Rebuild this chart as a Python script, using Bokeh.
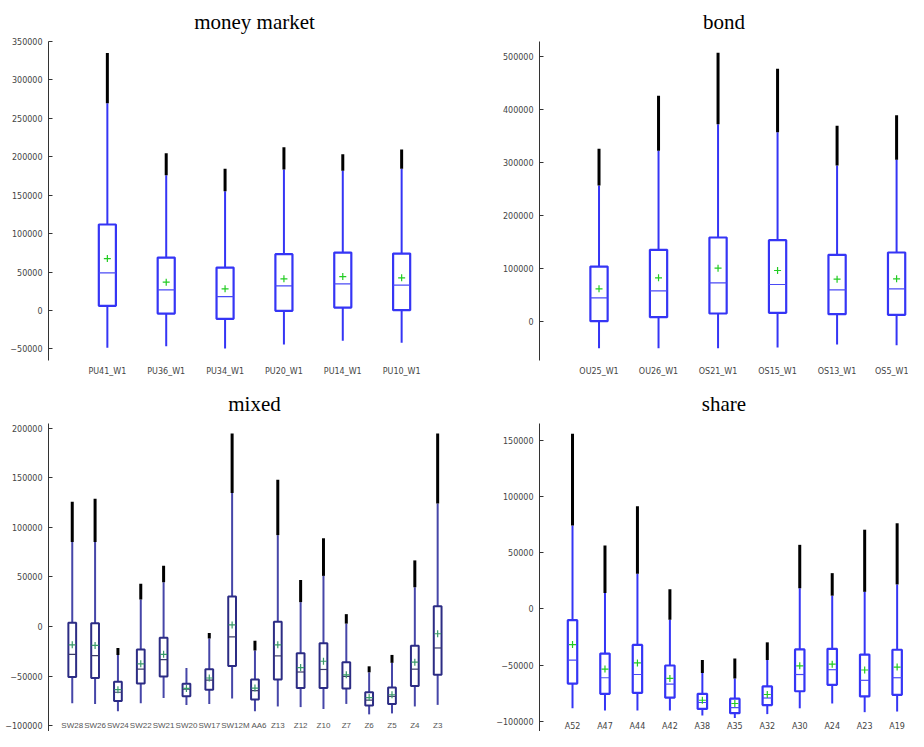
from bokeh.plotting import figure
from bokeh.layouts import column, row
from bokeh.models import FixedTicker, BasicTickFormatter, Range1d, ColumnDataSource
from bokeh.embed import file_html
from bokeh.resources import INLINE
from bokeh.core.properties import value

# ---------------- data ----------------
mm_cats = ["PU41_W1", "PU36_W1", "PU34_W1", "PU20_W1", "PU14_W1", "PU10_W1"]
mm_low = [-48570, -46400, -49430, -44230, -39460, -42060]
mm_q1 = [6070, -3900, -10840, -430, 3900, 430]
mm_med = [49000, 26900, 18200, 32090, 34690, 32960]
mm_q3 = [111900, 68950, 55940, 73290, 75450, 74150]
mm_upw = [269700, 176000, 155250, 183400, 181700, 184300]
mm_max = [335200, 204700, 184300, 212500, 203400, 209450]
mm_mean = [67650, 36860, 28190, 41200, 44230, 42500]
mm_yticks = [-50000, 0, 50000, 100000, 150000, 200000, 250000, 300000, 350000]

bd_cats = ["OU25_W1", "OU26_W1", "OS21_W1", "OS15_W1", "OS13_W1", "OS5_W1"]
bd_low = [-50900, -50900, -50900, -49700, -44000, -45300]
bd_q1 = [0, 7550, 14500, 15700, 13200, 11900]
bd_med = [44000, 57200, 72300, 69200, 59100, 61000]
bd_q3 = [103100, 134600, 157900, 152800, 125200, 129600]
bd_upw = [256000, 321400, 371700, 356600, 293700, 304400]
bd_max = [325200, 425200, 506300, 476100, 368600, 388700]
bd_mean = [61000, 81800, 100000, 95600, 79200, 79900]
bd_yticks = [0, 100000, 200000, 300000, 400000, 500000]

mx_cats = ["SW28", "SW26", "SW24", "SW22", "SW21", "SW20", "SW17", "SW12", "M AA6",
           "Z13", "Z12", "Z10", "Z7", "Z6", "Z5", "Z4", "Z3"]
mx_low = [-77540, -78170, -85510, -77540, -72110, -79130, -78170, -72750, -85510,
          -80730, -81370, -83280, -78170, -88700, -87750, -80730, -79130]
mx_q1 = [-51050, -52010, -75300, -57430, -50410, -70520, -63820, -39890, -73710,
         -53610, -62220, -62220, -62540, -79770, -78170, -59990, -48820]
mx_med = [-28100, -29360, -66370, -43080, -33500, -63180, -54250, -10530, -64780,
          -29680, -45950, -43400, -50410, -74350, -70520, -43080, -21700]
mx_q3 = [3830, 3190, -55840, -23290, -11490, -57750, -43080, 30310, -53610,
         4790, -27120, -16910, -36060, -66370, -61580, -19460, 20420]
mx_upw = [85200, 85200, -28700, 27120, 44670, -41800, -12130, 134650, -24250,
          92210, 24570, 51060, 2870, -46270, -36700, 39570, 124120]
mx_max = [126000, 128900, -21700, 43080, 61260, -41800, -6700, 194640, -14360,
          148050, 46900, 89020, 12440, -40210, -28720, 66690, 194640]
mx_mean = [-18500, -19150, -63820, -37650, -28080, -62540, -52010, 1600, -62220,
           -18500, -41480, -35100, -48820, -71790, -68920, -36060, -7340]
mx_yticks = [-100000, -50000, 0, 50000, 100000, 150000, 200000]

sh_cats = ["A52", "A47", "A44", "A42", "A38", "A35", "A32", "A30", "A24", "A23", "A19"]
sh_low = [-88390, -90390, -90390, -90390, -94680, -96970, -93540, -88390, -84100, -91820, -91250]
sh_q1 = [-66360, -75510, -74660, -78950, -88960, -92680, -85530, -73230, -67510, -77800, -76370]
sh_med = [-45480, -61210, -58350, -66930, -83240, -87820, -79230, -58350, -54060, -63500, -61210]
sh_q3 = [-10010, -39760, -32040, -50340, -75510, -79810, -68940, -36040, -35470, -40620, -36330]
sh_upw = [74090, 14020, 31180, -9730, -56920, -61780, -45480, 18310, 11730, 15160, 21740]
sh_max = [155600, 56350, 91250, 17450, -45480, -44050, -29750, 56920, 31750, 70370, 76090]
sh_mean = [-31750, -53490, -48050, -61780, -81240, -84100, -76090, -50630, -49200, -54350, -51770]
sh_yticks = [-100000, -50000, 0, 50000, 100000, 150000]

TOP_STYLE = dict(box="#3535f5", whisk="#3535f5", med="#4a4af5", mean="#22cc22", bw=0.29, lw=2.2)
MIX_STYLE = dict(box="#2c2c84", whisk="#4646a8", med="#3a3a6a", mean="#3a9a6a", bw=0.34, lw=2.0)


def panel(title, cats, low, q1, med, q3, upw, mx, mean, yticks, yr, xr, st,
          w, h, bl, bt, bb, label_mode="axis"):
    p = figure(width=w, height=h, output_backend="svg", toolbar_location=None,
               x_range=Range1d(*xr), y_range=Range1d(*yr),
               min_border_left=bl, min_border_right=0, min_border_top=bt,
               min_border_bottom=bb)
    p.title.text = title
    p.title.align = "center"
    p.title.text_font = "Liberation Serif"
    p.title.text_font_size = "21px"
    p.title.text_font_style = "normal"
    p.title.text_color = "#000000"
    p.title.standoff = 15
    p.outline_line_color = None
    p.grid.visible = False
    p.background_fill_color = "white"

    x = list(range(len(cats)))
    bw = st["bw"]
    src = ColumnDataSource(dict(
        x=x, low=low, q1=q1, med=med, q3=q3, upw=upw, mx=mx, mean=mean,
        xl=[i - bw / 2 for i in x], xr=[i + bw / 2 for i in x]))

    p.segment(x0="x", y0="low", x1="x", y1="q1", source=src,
              line_color=st["whisk"], line_width=2, line_cap="butt")
    p.segment(x0="x", y0="q3", x1="x", y1="upw", source=src,
              line_color=st["whisk"], line_width=2, line_cap="butt")
    p.segment(x0="x", y0="upw", x1="x", y1="mx", source=src,
              line_color="#000000", line_width=3, line_cap="butt")
    p.vbar(x="x", width=bw, bottom="q1", top="q3", source=src,
           fill_color="white", line_color=st["box"], line_width=st["lw"])
    p.segment(x0="xl", y0="med", x1="xr", y1="med", source=src,
              line_color=st["med"], line_width=1.2)
    p.scatter(x="x", y="mean", source=src, marker="cross", size=7,
              line_color=st["mean"], line_width=1.2)

    ya = p.yaxis[0]
    ya.ticker = FixedTicker(ticks=yticks)
    ya.formatter = BasicTickFormatter(use_scientific=False)
    ya.minor_tick_line_color = None
    ya.major_tick_in = 4
    ya.major_tick_out = 0
    ya.axis_line_color = "#333333"
    ya.major_tick_line_color = "#333333"
    ya.major_label_text_font = "DejaVu Sans"
    ya.major_label_text_font_size = "8px"
    ya.major_label_text_color = "#444444"
    ya.major_label_standoff = 6

    xa = p.xaxis[0]
    if label_mode == "mixed":
        xa.visible = False
        p.text(x=x, y=[yticks[0]] * len(cats), text=cats, text_align="center",
               text_baseline="middle", text_font=value("Liberation Sans"),
               text_font_size="8px", text_color="#555555")
    elif label_mode == "bottom":
        xa.visible = False
        p.text(x=x, y=[yr[0]] * len(cats), text=cats, text_align="center",
               text_baseline="bottom", y_offset=-1, text_font=value("DejaVu Sans"),
               text_font_size="8px", text_color="#444444")
    else:
        xa.ticker = FixedTicker(ticks=x)
        xa.major_label_overrides = {i: c for i, c in enumerate(cats)}
        xa.axis_line_color = None
        xa.major_tick_line_color = None
        xa.minor_tick_line_color = None
        xa.major_label_text_font = "DejaVu Sans"
        xa.major_label_text_font_size = "8px"
        xa.major_label_text_color = "#444444"
        xa.major_label_standoff = 0
    return p


p1 = panel("money market", mm_cats, mm_low, mm_q1, mm_med, mm_q3, mm_upw, mm_max, mm_mean,
           mm_yticks, (-65000, 350000), (-1.0, 6.0), TOP_STYLE, 460, 380, 48, 41, 20)
p2 = panel("bond", bd_cats, bd_low, bd_q1, bd_med, bd_q3, bd_upw, bd_max, bd_mean,
           bd_yticks, (-74200, 527700), (-1.0, 5.2), TOP_STYLE, 448, 380, 79, 41, 20)
p3 = panel("mixed", mx_cats, mx_low, mx_q1, mx_med, mx_q3, mx_upw, mx_max, mx_mean,
           mx_yticks, (-106000, 204850), (-1.04, 17.0), MIX_STYLE, 460, 351, 48, 43, 0,
           label_mode="mixed")
p4 = panel("share", sh_cats, sh_low, sh_q1, sh_med, sh_q3, sh_upw, sh_max, sh_mean,
           sh_yticks, (-109000, 164770), (-1.017, 10.35), TOP_STYLE, 448, 351, 79, 43, 0,
           label_mode="bottom")

layout = column(row(p1, p2), row(p3, p4))
open("out.html", "w").write(file_html(layout, INLINE))
